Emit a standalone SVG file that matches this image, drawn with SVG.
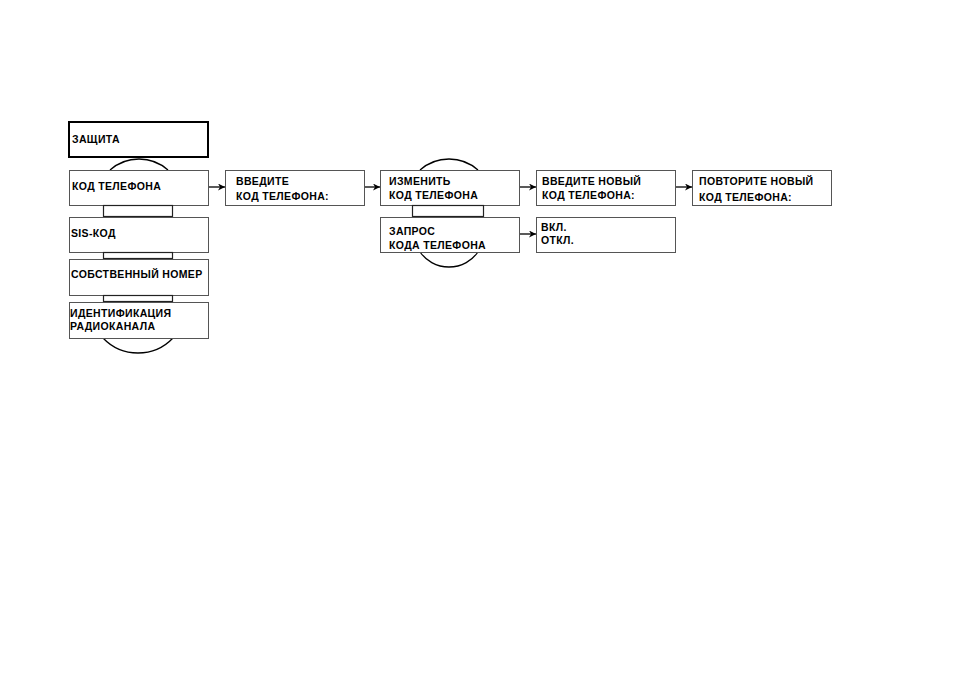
<svg xmlns="http://www.w3.org/2000/svg" width="954" height="685" viewBox="0 0 954 685">
<style>
.box{fill:#fff;stroke:#555;stroke-width:1}
.thick{fill:#fff;stroke:#000;stroke-width:2}
.bar{fill:#fff;stroke:#222;stroke-width:1.2}
.arc{fill:none;stroke:#000;stroke-width:1.3}
.t{font-family:"Liberation Sans",Arial,sans-serif;font-weight:bold;font-size:10.5px;letter-spacing:0.35px;fill:#000}
.c{stroke:#000;stroke-width:1.3;fill:none;marker-end:url(#ah)}
</style>
<defs>
<marker id="ah" viewBox="0 0 10 10" refX="10" refY="5" markerWidth="7" markerHeight="7" markerUnits="userSpaceOnUse" orient="auto">
<path d="M0,0 L10,5 L0,10 L3,5 z" fill="#000"/>
</marker>
</defs>
<rect width="954" height="685" fill="#fff"/>
<g id="arcs">
<path class="arc" d="M110,170 A43.7,43.7 0 0 1 168,170"/>
<path class="arc" d="M103,338 A48.3,48.3 0 0 0 173,338"/>
<path class="arc" d="M420,170 A43.7,43.7 0 0 1 478,170"/>
<path class="arc" d="M420,252 A35.5,35.5 0 0 0 478,252"/>
</g>
<g id="n-zashchita"><rect class="thick" x="69" y="122" width="139" height="35"/><text class="t" x="72" y="143">ЗАЩИТА</text></g>
<g id="n-kod"><rect class="box" x="69.5" y="170.5" width="139" height="35"/><text class="t" x="72" y="190">КОД ТЕЛЕФОНА</text></g>
<g id="bar1"><rect class="bar" x="103.5" y="205.5" width="69" height="11"/></g>
<g id="n-sis"><rect class="box" x="69.5" y="217.5" width="139" height="35"/><text class="t" x="71" y="237">SIS-КОД</text></g>
<g id="bar2"><rect class="bar" x="103.5" y="252.5" width="69" height="6"/></g>
<g id="n-nomer"><rect class="box" x="69.5" y="259.5" width="139" height="36"/><text class="t" x="71" y="278">СОБСТВЕННЫЙ НОМЕР</text></g>
<g id="bar3"><rect class="bar" x="103.5" y="295.5" width="69" height="6"/></g>
<g id="n-ident"><rect class="box" x="69.5" y="302.5" width="139" height="36"/><text class="t" x="70" y="317">ИДЕНТИФИКАЦИЯ</text><text class="t" x="70" y="330">РАДИОКАНАЛА</text></g>
<g id="n-vvedite"><rect class="box" x="225.5" y="170.5" width="139" height="35"/><text class="t" x="236" y="185">ВВЕДИТЕ</text><text class="t" x="236" y="200">КОД ТЕЛЕФОНА:</text></g>
<g id="n-izmenit"><rect class="box" x="380.5" y="170.5" width="139" height="35"/><text class="t" x="389" y="185">ИЗМЕНИТЬ</text><text class="t" x="389" y="199">КОД ТЕЛЕФОНА</text></g>
<g id="bar4"><rect class="bar" x="412.5" y="205.5" width="71" height="11"/></g>
<g id="n-zapros"><rect class="box" x="380.5" y="217.5" width="139" height="35"/><text class="t" x="389" y="235">ЗАПРОС</text><text class="t" x="389" y="249">КОДА ТЕЛЕФОНА</text></g>
<g id="n-novyi"><rect class="box" x="536.5" y="170.5" width="139" height="35"/><text class="t" x="542" y="185">ВВЕДИТЕ НОВЫЙ</text><text class="t" x="542" y="199">КОД ТЕЛЕФОНА:</text></g>
<g id="n-vkl"><rect class="box" x="536.5" y="217.5" width="139" height="35"/><text class="t" x="541" y="231">ВКЛ.</text><text class="t" x="541" y="244">ОТКЛ.</text></g>
<g id="n-povtor"><rect class="box" x="692.5" y="170.5" width="139" height="35"/><text class="t" x="699" y="185">ПОВТОРИТЕ НОВЫЙ</text><text class="t" x="699" y="201">КОД ТЕЛЕФОНА:</text></g>
<g id="connectors">
<line class="c" x1="209" y1="187" x2="225" y2="187"/>
<line class="c" x1="365" y1="187" x2="380" y2="187"/>
<line class="c" x1="520" y1="187" x2="536" y2="187"/>
<line class="c" x1="520" y1="234" x2="536" y2="234"/>
<line class="c" x1="676" y1="187" x2="692" y2="187"/>
</g>
</svg>
